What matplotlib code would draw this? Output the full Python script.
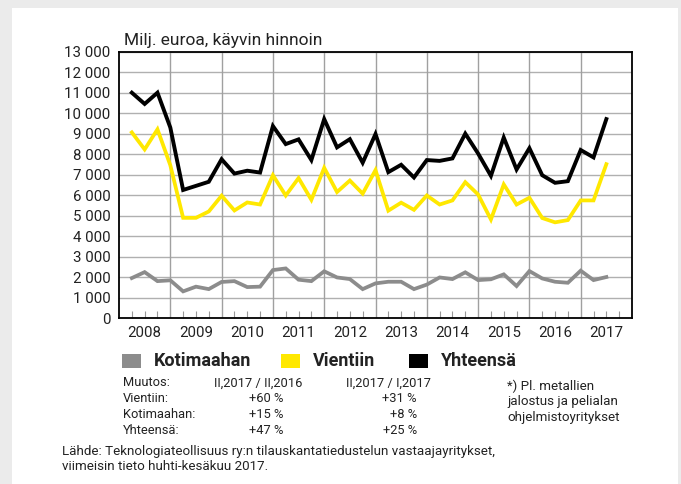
import matplotlib
matplotlib.use("Agg")
import matplotlib.pyplot as plt
from matplotlib.patches import Rectangle

plt.rcParams['font.family'] = ['Roboto', 'DejaVu Sans']

years = list(range(2008, 2018))
quarters = [(y, q) for y in range(2008, 2018) for q in range(1, 5)][:38]

yhteensa = [11000, 10450, 11000, 9300,
            6250, 6450, 6650, 7750,
            7050, 7190, 7100, 9370,
            8490, 8720, 7710, 9710,
            8330, 8730, 7580, 8980,
            7120, 7480, 6860, 7710,
            7670, 7790, 9000, 8030,
            6940, 8810, 7250, 8290,
            6970, 6600, 6680, 8200,
            7840, 9710]
vientiin = [9060, 8230, 9210, 7460,
            4890, 4890, 5200, 5970,
            5250, 5640, 5540, 6970,
            5980, 6830, 5770, 7330,
            6150, 6710, 6070, 7220,
            5240, 5630, 5280, 5980,
            5540, 5740, 6630, 6030,
            4810, 6520, 5540, 5870,
            4880, 4670, 4780, 5740,
            5740, 7510]
kotimaahan = [1950, 2240, 1800, 1840,
              1300, 1530, 1410, 1760,
              1800, 1510, 1530, 2340,
              2420, 1870, 1800, 2280,
              1980, 1900, 1410, 1690,
              1770, 1770, 1410, 1630,
              1980, 1900, 2230, 1850,
              1890, 2130, 1560, 2290,
              1930, 1770, 1720, 2310,
              1850, 2000]

yticks = list(range(0, 14000, 1000))
ytick_labels = [f"{v:,}".replace(",", " ") for v in yticks]

series_names = ["Kotimaahan", "Vientiin", "Yhteensä"]
series_colors = ["#8c8c8c", "#ffe800", "#000000"]

table_header = ["Muutos:", "II,2017 / II,2016", "II,2017 / I,2017"]
table_rows = [["Vientiin:", "+60 %", "+31 %"],
              ["Kotimaahan:", "+15 %", "+8 %"],
              ["Yhteensä:", "+47 %", "+25 %"]]
footnote = ["*) Pl. metallien", "jalostus ja pelialan", "ohjelmistoyritykset"]
source = ["Lähde: Teknologiateollisuus ry:n tilauskantatiedustelun vastaajayritykset,",
          "viimeisin tieto huhti-kesäkuu 2017."]

W, H = 681, 484
fig = plt.figure(figsize=(W / 100, H / 100), dpi=100)
fig.patch.set_facecolor("#ebebeb")
fig.add_artist(Rectangle((12 / W, 0), (678 - 12) / W, (H - 8) / H,
                         transform=fig.transFigure, facecolor="white",
                         edgecolor="none", zorder=0))

def fx(px):
    return px / W

def fy(py):
    return 1 - py / H

left, right, top, bottom = 119, 632, 51.7, 318
ax = fig.add_axes([fx(left), fy(bottom), (right - left) / W, (bottom - top) / H])
ax.set_zorder(1)

xs = [y + q / 4 for (y, q) in quarters]
ax.plot(xs, kotimaahan, color=series_colors[0], lw=2.7, solid_joinstyle="miter", zorder=3)
ax.plot(xs, vientiin, color=series_colors[1], lw=2.7, solid_joinstyle="miter", zorder=4)
ax.plot(xs, yhteensa, color=series_colors[2], lw=2.8, solid_joinstyle="miter", zorder=5)

ax.set_xlim(2008, 2018)
ax.set_ylim(0, 13000)
ax.set_yticks(yticks)
ax.set_yticklabels(ytick_labels)
ax.tick_params(axis="y", length=0, pad=6, labelsize=10.8, colors="#222222")
ax.set_xticks([y + 0.5 for y in years])
ax.set_xticklabels([str(y) for y in years])
ax.set_xticks([y + f for y in years for f in (0.25, 0.75)], minor=True)
ax.tick_params(axis="x", which="both", direction="in", length=5, width=0.8,
               color="#999999", labelsize=10.8, pad=6, labelcolor="#222222")
ax.grid(axis="y", color="#b0b0b0", lw=1)
for y in years[1:]:
    ax.axvline(y, color="#a0a0a0", lw=1, zorder=1)
ax.set_axisbelow(True)
for s in ax.spines.values():
    s.set_linewidth(1.3)
    s.set_color("black")

fig.text(fx(124), fy(40), "Milj. euroa, käyvin hinnoin", fontsize=12.5,
         va="center", ha="left", color="#222222")

# legend
leg_items = [(122, 154), (281, 313), (409, 441)]
for (sx, tx), name, col in zip(leg_items, series_names, series_colors):
    fig.add_artist(Rectangle((fx(sx), fy(368)), 19 / W, 14 / H,
                             transform=fig.transFigure, facecolor=col,
                             edgecolor="none"))
    fig.text(fx(tx), fy(361), name, fontsize=13, fontweight="bold",
             va="center", ha="left", color="#222222")

# table
row_y = [383, 399, 415, 430]
fs = 9.3
fig.text(fx(123), fy(row_y[0]), table_header[0], fontsize=fs, va="center", ha="left", color="#222222")
fig.text(fx(258), fy(row_y[0]), table_header[1], fontsize=fs, va="center", ha="center", color="#222222")
fig.text(fx(389), fy(row_y[0]), table_header[2], fontsize=fs, va="center", ha="center", color="#222222")
for ry, row in zip(row_y[1:], table_rows):
    fig.text(fx(123), fy(ry), row[0], fontsize=fs, va="center", ha="left", color="#222222")
    fig.text(fx(283), fy(ry), row[1], fontsize=fs, va="center", ha="right", color="#222222")
    fig.text(fx(417), fy(ry), row[2], fontsize=fs, va="center", ha="right", color="#222222")

for i, line in enumerate(footnote):
    fig.text(fx(507), fy(386 + 16 * i), line, fontsize=9.6, va="center", ha="left", color="#222222")

for i, line in enumerate(source):
    fig.text(fx(62), fy(452 + 15 * i), line, fontsize=9.6, va="center", ha="left", color="#222222")

fig.savefig("out.png", dpi=100, facecolor=fig.get_facecolor())
